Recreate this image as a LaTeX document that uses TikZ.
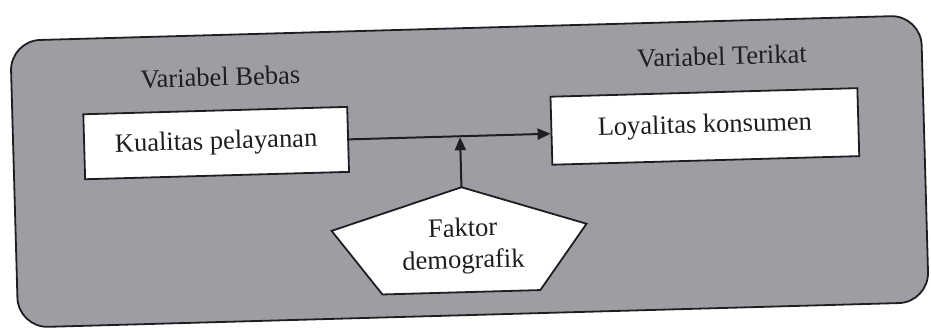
\documentclass[tikz,border=0pt]{standalone}
\usepackage{fontspec}
\setmainfont{Liberation Serif}
\usetikzlibrary{arrows.meta}
\definecolor{panelfill}{RGB}{160,156,164}
\definecolor{inkdark}{RGB}{30,30,32}
\tikzset{
  panel/.style={draw=inkdark, line width=1.8pt, fill=panelfill, rounded corners=30pt},
  varbox/.style={draw=inkdark, line width=1.8pt, fill=white, inner sep=0pt,
                 text=inkdark, font=\fontsize{26.5}{32}\selectfont},
  heading/.style={text=inkdark, font=\fontsize{26.5}{32}\selectfont, inner sep=0pt},
  penta/.style={draw=inkdark, line width=1.8pt, fill=white, line join=miter},
  link/.style={draw=inkdark, line width=2pt, -{Triangle[length=13pt,width=11pt]}}
}
\begin{document}
\begin{tikzpicture}[x=1pt, y=-1pt]
  \useasboundingbox (0,0) rectangle (931,328);
  \begin{scope}[rotate around={1.6:(470,170)}, transform shape]
    % outer panel
    \draw[panel] (14,28) rectangle (925,315);

    % column headings
    \node[heading] (vb) at (223,70) {Variabel Bebas};
    \node[heading] (vt) at (725,63) {Variabel Terikat};

    % variable boxes
    \node[varbox, minimum width=264pt, minimum height=65pt] (kp) at (217,136) {Kualitas pelayanan};
    \node[varbox, minimum width=307pt, minimum height=68pt] (lk) at (706,133) {Loyalitas konsumen};

    % moderating factor (pentagon)
    \coordinate (apex) at (461,187);
    \coordinate (pr) at (585,227);
    \coordinate (pbr) at (537,292);
    \coordinate (pbl) at (379,292);
    \coordinate (pl) at (330,227);
    \draw[penta] (apex) -- (pr) -- (pbr) -- (pbl) -- (pl) -- cycle;
    \node[heading, align=center] (fd) at (461,246) {Faktor\\demografik};

    % connectors
    \draw[link] (kp.east) -- (kp.east -| lk.west);
    \coordinate (join) at (kp.east -| apex);
    \draw[link, shorten >=1pt] (apex) -- (join);
  \end{scope}
\end{tikzpicture}
\end{document}
